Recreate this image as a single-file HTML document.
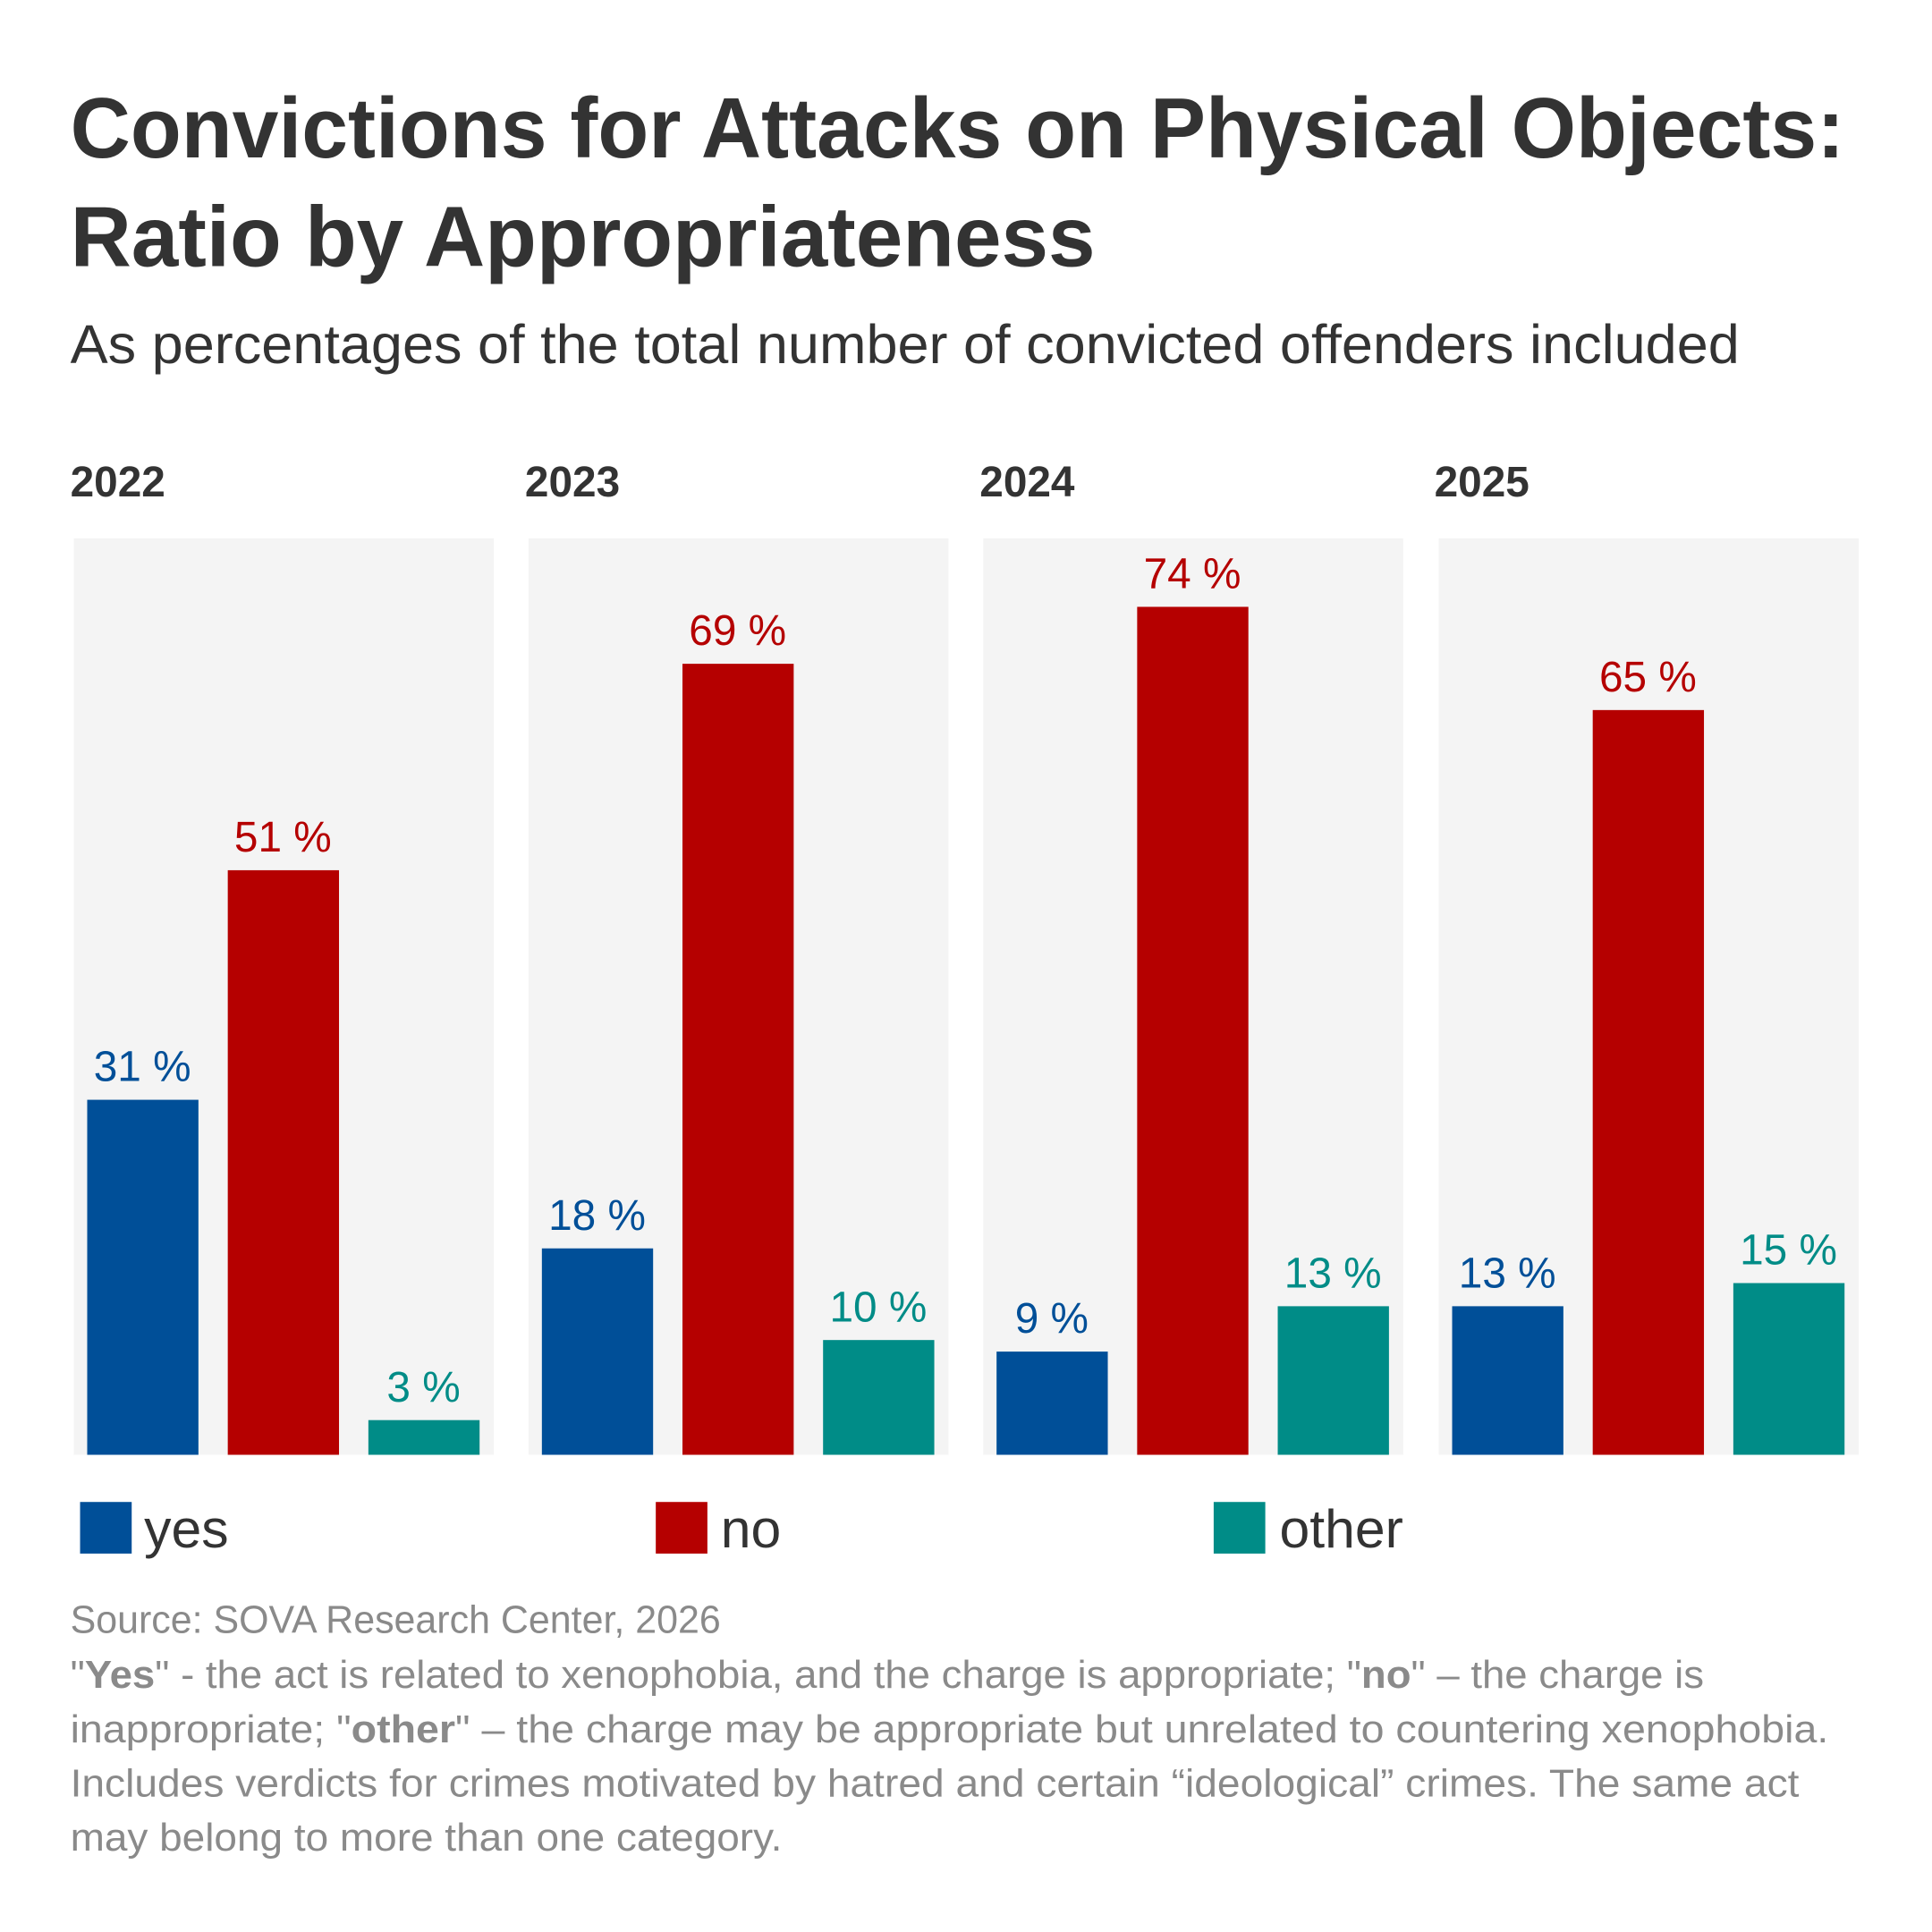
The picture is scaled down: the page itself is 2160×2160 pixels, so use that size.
<!DOCTYPE html>
<html><head><meta charset="utf-8"><style>html,body{margin:0;padding:0;background:#fff}svg{display:block}</style></head>
<body>
<svg width="2160" height="2160" viewBox="0 0 2160 2160" xmlns="http://www.w3.org/2000/svg" font-family="Liberation Sans, sans-serif">
<rect width="2160" height="2160" fill="#fff"/>
<g transform="scale(0.9948)">
<text x="79" y="177" font-size="96" font-weight="bold" fill="#333" textLength="1994" lengthAdjust="spacingAndGlyphs">Convictions for Attacks on Physical Objects:</text>
<text x="79" y="299" font-size="96" font-weight="bold" fill="#333" textLength="1152" lengthAdjust="spacingAndGlyphs">Ratio by Appropriateness</text>
<text x="79" y="408" font-size="62" fill="#333" textLength="1876" lengthAdjust="spacingAndGlyphs">As percentages of the total number of convicted offenders included</text>
<g font-size="48" font-weight="bold" fill="#333">
<text x="79" y="558">2022</text><text x="590" y="558">2023</text><text x="1101" y="558">2024</text><text x="1612" y="558">2025</text>
</g>
<g fill="#f4f4f4">
<rect x="83" y="605" width="472" height="1030"/><rect x="594" y="605" width="472" height="1030"/><rect x="1105" y="605" width="472" height="1030"/><rect x="1617" y="605" width="472" height="1030"/>
</g>
<g font-size="48" text-anchor="middle">
<rect x="98" y="1236" width="125" height="399" fill="#004f98"/><text x="160" y="1215" fill="#004f98">31 %</text>
<rect x="256" y="978" width="125" height="657" fill="#b50000"/><text x="318" y="957" fill="#b50000">51 %</text>
<rect x="414" y="1596" width="125" height="39" fill="#008c87"/><text x="476" y="1575" fill="#008c87">3 %</text>
<rect x="609" y="1403" width="125" height="232" fill="#004f98"/><text x="671" y="1382" fill="#004f98">18 %</text>
<rect x="767" y="746" width="125" height="889" fill="#b50000"/><text x="829" y="725" fill="#b50000">69 %</text>
<rect x="925" y="1506" width="125" height="129" fill="#008c87"/><text x="987" y="1485" fill="#008c87">10 %</text>
<rect x="1120" y="1519" width="125" height="116" fill="#004f98"/><text x="1182" y="1498" fill="#004f98">9 %</text>
<rect x="1278" y="682" width="125" height="953" fill="#b50000"/><text x="1340" y="661" fill="#b50000">74 %</text>
<rect x="1436" y="1468" width="125" height="167" fill="#008c87"/><text x="1498" y="1447" fill="#008c87">13 %</text>
<rect x="1632" y="1468" width="125" height="167" fill="#004f98"/><text x="1694" y="1447" fill="#004f98">13 %</text>
<rect x="1790" y="798" width="125" height="837" fill="#b50000"/><text x="1852" y="777" fill="#b50000">65 %</text>
<rect x="1948" y="1442" width="125" height="193" fill="#008c87"/><text x="2010" y="1421" fill="#008c87">15 %</text>
</g>
<rect x="90" y="1688" width="58" height="58" fill="#004f98"/>
<rect x="737" y="1688" width="58" height="58" fill="#b50000"/>
<rect x="1364" y="1688" width="58" height="58" fill="#008c87"/>
<g font-size="61" fill="#333">
<text x="162" y="1739">yes</text><text x="810" y="1739">no</text><text x="1438" y="1739">other</text>
</g>
<g font-size="44" fill="#8a8a8a">
<text x="79" y="1835" textLength="731" lengthAdjust="spacingAndGlyphs">Source: SOVA Research Center, 2026</text>
<text x="79" y="1897" textLength="1836" lengthAdjust="spacingAndGlyphs">"<tspan font-weight="bold">Yes</tspan>" - the act is related to xenophobia, and the charge is appropriate; "<tspan font-weight="bold">no</tspan>" – the charge is</text>
<text x="79" y="1958" textLength="1976" lengthAdjust="spacingAndGlyphs">inappropriate; "<tspan font-weight="bold">other</tspan>" – the charge may be appropriate but unrelated to countering xenophobia.</text>
<text x="79" y="2019" textLength="1943" lengthAdjust="spacingAndGlyphs">Includes verdicts for crimes motivated by hatred and certain “ideological” crimes. The same act</text>
<text x="79" y="2080" textLength="800" lengthAdjust="spacingAndGlyphs">may belong to more than one category.</text>
</g>
</g>
</svg>
</body></html>
